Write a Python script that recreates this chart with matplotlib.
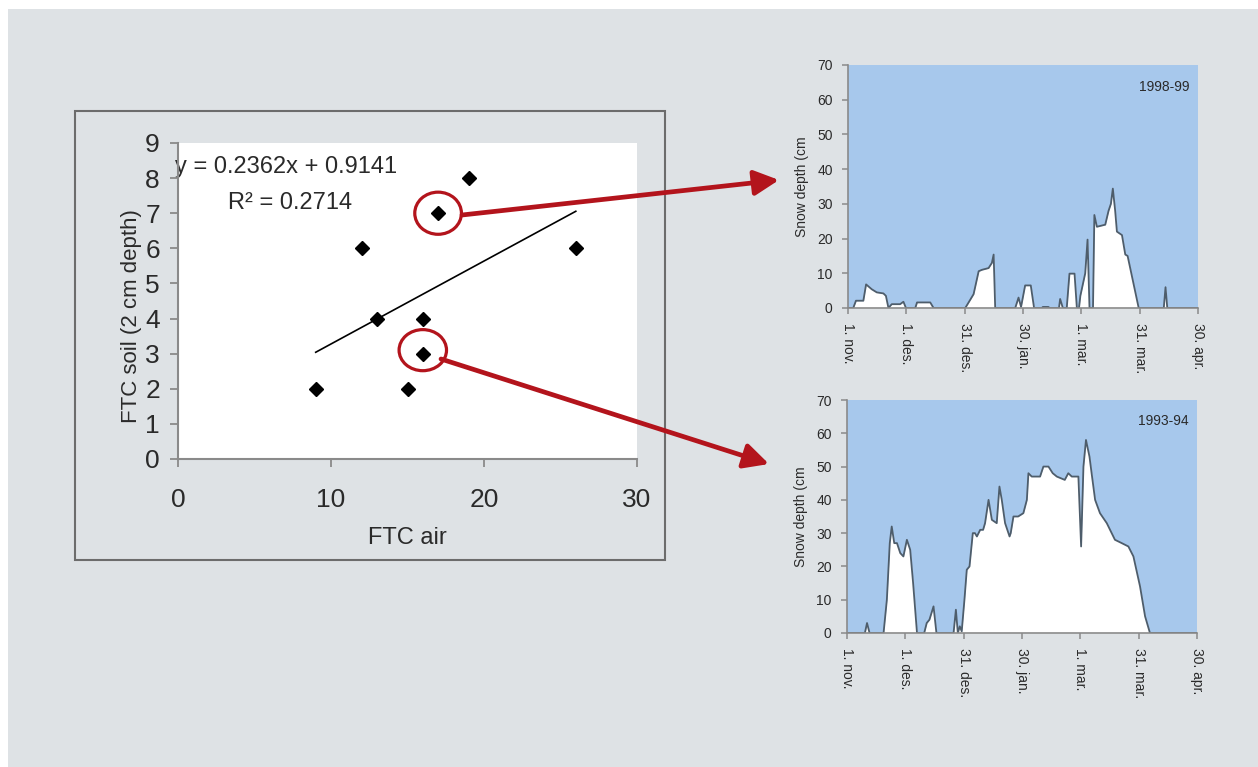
import numpy as np
import matplotlib
matplotlib.use("Agg")
import matplotlib.pyplot as plt
from matplotlib.patches import Rectangle, Ellipse, FancyArrowPatch

plt.rcParams["font.family"] = ["Liberation Sans", "DejaVu Sans"]

# ---- scatter panel: freeze-thaw cycles, air vs soil ----
ftc_air = [9, 12, 13, 15, 16, 16, 17, 19, 26]
ftc_soil = [2, 6, 4, 2, 4, 3, 7, 8, 6]
trend_slope = 0.2362
trend_intercept = 0.9141
trend_r2 = 0.2714

# ---- snow depth series (days after 1 Nov, cm) ----
season_a = "1998-99"
days_a = [0, 2.7, 4.1, 7.9, 9.3, 12.2, 14.8, 18.2, 19.5, 20.8,
          22.5, 26.8, 28.5, 29.8, 34.6, 35.5, 42.3, 44.0, 60.3, 63.0,
          64.6, 67.2, 68.9, 72.3, 74.0, 74.9, 75.7, 86.0, 87.7, 89.0,
          91.1, 94.0, 95.7, 99.7, 100.2, 103.1, 103.6, 108.5, 109.1, 110.5,
          112.5, 113.9, 116.5, 117.7, 118.8, 119.5, 122.0, 123.2, 124.2, 126.0,
          126.7, 128.0, 132.3, 134.0, 135.2, 136.2, 137.4, 138.3, 140.9, 142.6,
          143.8, 149.5, 162.4, 163.3, 164.2, 180]
depth_a = [0, 0, 2.1, 2.1, 6.8, 5.4, 4.5, 4.2, 3.5, 0,
           1.1, 1.1, 1.8, 0, 0, 1.6, 1.6, 0, 0, 2.5,
           4.0, 10.6, 11.0, 11.5, 13.0, 15.4, 0, 0, 3.0, 0.3,
           6.5, 6.5, 0, 0, 0.3, 0.3, 0, 0, 2.6, 0,
           0, 9.9, 9.9, 0, 0, 3.5, 10.0, 19.7, 0, 0,
           26.8, 23.4, 24.0, 28.0, 30.0, 34.4, 28.0, 22.0, 21.0, 15.4,
           15.0, 0, 0, 6.0, 0, 0]

season_b = "1993-94"
days_b = [0, 9.2, 10.3, 11.6, 18.8, 20.5, 22.0, 23.0, 24.3, 25.7,
          27.4, 29.0, 30.8, 32.5, 34.0, 36.0, 39.7, 41.0, 42.4, 44.5,
          46.0, 54.8, 56.0, 57.0, 58.0, 59.0, 60.4, 61.6, 63.0, 64.7,
          65.8, 66.8, 68.5, 70.0, 71.0, 72.8, 74.5, 77.0, 78.4, 79.6,
          81.3, 83.6, 84.2, 85.6, 88.0, 90.7, 92.5, 93.3, 95.0, 99.3,
          101.0, 103.6, 105.8, 107.9, 112.0, 113.8, 115.6, 119.0, 120.4, 121.6,
          122.9, 124.7, 125.8, 127.6, 130.1, 133.6, 137.8, 141.3, 144.7, 147.3,
          150.7, 153.3, 155.8, 180]
depth_b = [0, 0, 3, 0, 0, 10, 27, 32, 27, 27,
           24, 23, 28, 25, 15, 0, 0, 3, 4, 8,
           0, 0, 7, 0, 2, 0.5, 10, 19, 20, 30,
           30, 29, 31, 31, 33, 40, 34, 33, 44, 40,
           33, 29, 30, 35, 35, 36, 40, 48, 47, 47,
           50, 50, 48, 47, 46, 48, 47, 47, 26, 50,
           58, 53, 48, 40, 36, 33, 28, 27, 26, 23,
           14, 5, 0, 0]

month_ticks = [0, 30, 60, 90, 120, 150, 180]
month_labels = ["1. nov.", "1. des.", "31. des.", "30. jan.",
                "1. mar.", "31. mar.", "30. apr."]

W, H = 1258, 767
BG = "#dee2e5"
RED = "#b3141c"
SKY = "#a7c8ec"
AXIS = "#8a8a8a"
TXT = "#2a2a2a"


def box(left, top, right, bottom):
    return [left / W, 1 - bottom / H, (right - left) / W, (bottom - top) / H]


def fig_pt(x, y):
    return (x / W, 1 - y / H)


fig = plt.figure(figsize=(W / 100, H / 100), dpi=100)
fig.patch.set_facecolor("white")
fig.add_artist(Rectangle((8 / W, 0), 1 - 8 / W, 1 - 9 / H, transform=fig.transFigure,
                         facecolor=BG, edgecolor="none", zorder=-3))
fig.add_artist(Rectangle((75 / W, 1 - 560 / H), 590 / W, 449 / H, transform=fig.transFigure,
                         facecolor=BG, edgecolor="#6c6c6c", lw=1.5, zorder=-2))

# ---- scatter plot ----
ax = fig.add_axes(box(178, 143, 637, 459))
ax.set_facecolor("white")
ax.plot(ftc_air, ftc_soil, "D", ms=7, color="black", zorder=4)
xs = np.array([min(ftc_air), max(ftc_air)])
ax.plot(xs, trend_slope * xs + trend_intercept, color="black", lw=1.2, zorder=3)
ax.set_xlim(0, 30)
ax.set_ylim(0, 9)
ax.set_xticks([0, 10, 20, 30])
ax.set_yticks(range(10))
for side in ("top", "right"):
    ax.spines[side].set_visible(False)
for side in ("left", "bottom"):
    ax.spines[side].set_color(AXIS)
    ax.spines[side].set_linewidth(1.5)
ax.tick_params(axis="both", colors=AXIS, length=6, width=1.3, labelsize=19, labelcolor=TXT)
ax.tick_params(axis="x", pad=15)
ax.tick_params(axis="y", pad=7)
ax.set_xlabel("FTC air", fontsize=17, color=TXT, va="center")
ax.xaxis.set_label_coords(0.5, -0.25)
ax.set_ylabel("FTC soil (2 cm depth)", fontsize=16, color=TXT, va="center")
ax.yaxis.set_label_coords(-0.102, 0.452)
ax.text(-0.2, 8.32, f"y = {trend_slope}x + {trend_intercept}", fontsize=17,
        color=TXT, va="center", ha="left", zorder=1)
ax.text(3.3, 7.29, f"R\u00b2 = {trend_r2}", fontsize=17, color=TXT, va="center", ha="left")

# highlighted seasons
ax.add_patch(Ellipse((17, 7), 3.05, 1.2, fill=False, ec=RED, lw=2.3, clip_on=False, zorder=5))
ax.add_patch(Ellipse((16, 3.1), 3.1, 1.17, fill=False, ec=RED, lw=2.3, clip_on=False, zorder=5))

for start, end in (((462, 215), (779, 180)), ((441, 359), (769, 464))):
    fig.add_artist(FancyArrowPatch(fig_pt(*start), fig_pt(*end), transform=fig.transFigure,
                                   arrowstyle="-|>,head_length=0.75,head_width=0.38",
                                   mutation_scale=20, lw=3.4, color=RED,
                                   shrinkA=0, shrinkB=0, zorder=6))


# ---- snow depth panels ----
def snow_panel(rect, days, depth, season):
    a = fig.add_axes(rect)
    a.set_facecolor(SKY)
    a.fill_between(days, depth, 0, color="white", lw=0)
    a.plot(days, depth, color="#4e5d6b", lw=1.3)
    a.set_xlim(0, 180)
    a.set_ylim(0, 70)
    a.set_yticks(range(0, 71, 10))
    a.set_xticks(month_ticks)
    a.set_xticklabels(month_labels, rotation=-90, va="top", ha="center")
    for side in ("top", "right"):
        a.spines[side].set_visible(False)
    for side in ("left", "bottom"):
        a.spines[side].set_color(AXIS)
        a.spines[side].set_linewidth(1.2)
    a.tick_params(axis="both", colors=AXIS, length=4, width=1.1, labelsize=10,
                  labelcolor=TXT, pad=7)
    a.set_ylabel("Snow depth (cm", fontsize=10, color=TXT, va="center")
    a.yaxis.set_label_coords(-0.131, 0.5)
    a.text(0.975, 0.91, season, transform=a.transAxes, ha="right", va="center",
           fontsize=10, color=TXT)
    return a


snow_panel(box(848, 65, 1198, 308), days_a, depth_a, season_a)
snow_panel(box(847, 400, 1197, 633), days_b, depth_b, season_b)

fig.savefig("out.png", dpi=100)
